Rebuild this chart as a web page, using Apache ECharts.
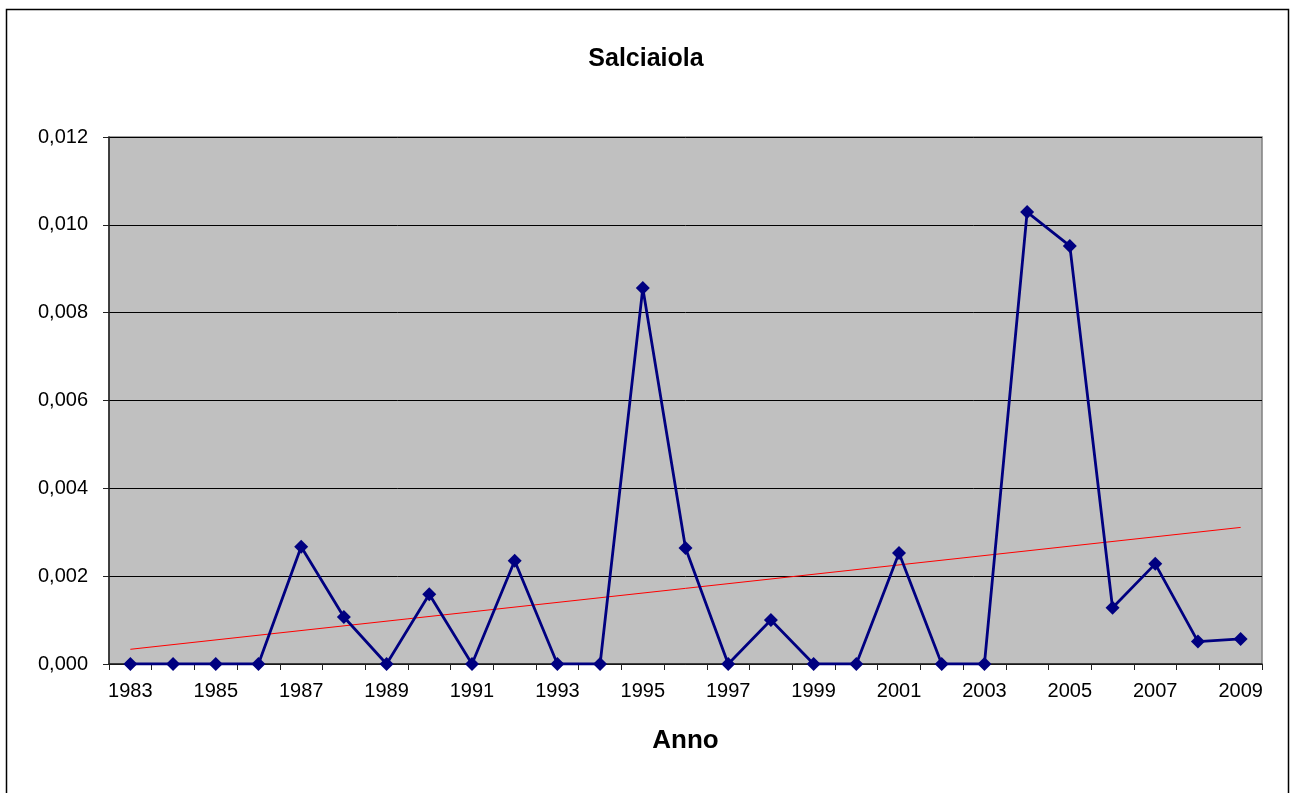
<!DOCTYPE html>
<html>
<head>
<meta charset="utf-8">
<script src="https://cdn.jsdelivr.net/npm/echarts@6/dist/echarts.min.js"></script>
<style>
    html, body { margin: 0; padding: 0; background: #fff; }
    #chart { width: 1292px; height: 793px; }
</style>
</head>
<body>
<div id="chart"></div>
<script>
// anni
var years = ['1983', '1984', '1985', '1986', '1987', '1988', '1989', '1990', '1991',
    '1992', '1993', '1994', '1995', '1996', '1997', '1998', '1999', '2000', '2001',
    '2002', '2003', '2004', '2005', '2006', '2007', '2008', '2009'];
// valori Salciaiola
var values = [0, 0, 0, 0, 0.00267, 0.00107, 0, 0.00159, 0,
    0.00235, 0, 0, 0.00856, 0.00264, 0, 0.00100, 0, 0, 0.00253,
    0, 0, 0.01029, 0.00952, 0.00128, 0.00228, 0.00051, 0.00057];
// linea di tendenza (inizio, fine)
var trendYears = ['1983', '2009'];
var trendValues = [0.000335, 0.00311];

var myChart = echarts.init(document.getElementById('chart'));
var option = {
    backgroundColor: '#fff',
    animation: false,
    title: {
        text: 'Salciaiola',
        left: 'center',
        top: 42,
        textStyle: {
            fontFamily: 'Liberation Sans',
            fontWeight: 'bold',
            fontSize: 25,
            color: '#000'
        }
    },
    graphic: [{
        type: 'rect',
        shape: {x: 6.5, y: 9.5, width: 1282, height: 800},
        style: {fill: 'none', stroke: '#000', lineWidth: 1.5},
        silent: true
    }],
    grid: {
        left: 109,
        right: 30,
        top: 137,
        bottom: 129,
        show: true,
        backgroundColor: '#C0C0C0',
        borderColor: '#808080',
        borderWidth: 1.5
    },
    xAxis: {
        type: 'category',
        data: years,
        boundaryGap: true,
        name: 'Anno',
        nameLocation: 'middle',
        nameGap: 64,
        nameTextStyle: {
            fontFamily: 'Liberation Sans',
            fontWeight: 'bold',
            fontSize: 26,
            color: '#000'
        },
        axisLine: {show: true, lineStyle: {color: '#222', width: 1.5}},
        axisTick: {show: true, interval: 0, length: 6, lineStyle: {color: '#222'}},
        axisLabel: {
            interval: 1,
            margin: 17,
            fontFamily: 'Liberation Sans',
            fontSize: 20,
            color: '#000'
        },
        splitLine: {show: false}
    },
    yAxis: {
        type: 'value',
        min: 0,
        max: 0.012,
        interval: 0.002,
        axisLine: {show: true, lineStyle: {color: '#222', width: 1.5}},
        axisTick: {show: true, length: 6, lineStyle: {color: '#222'}},
        axisLabel: {
            margin: 21,
            fontFamily: 'Liberation Sans',
            fontSize: 20,
            color: '#000',
            formatter: function (v) {
                return v.toFixed(3).replace('.', ',');
            }
        },
        splitLine: {show: true, lineStyle: {color: '#000', width: 1}}
    },
    series: [{
        name: 'Salciaiola',
        type: 'line',
        data: values,
        symbol: 'diamond',
        symbolSize: 14,
        lineStyle: {color: '#000080', width: 2.8},
        itemStyle: {color: '#000080'},
        z: 3
    }, {
        name: 'Tendenza',
        type: 'line',
        data: [[trendYears[0], trendValues[0]], [trendYears[1], trendValues[1]]],
        symbol: 'none',
        lineStyle: {color: '#FF0000', width: 1},
        z: 2
    }]
};
myChart.setOption(option);
</script>
</body>
</html>
